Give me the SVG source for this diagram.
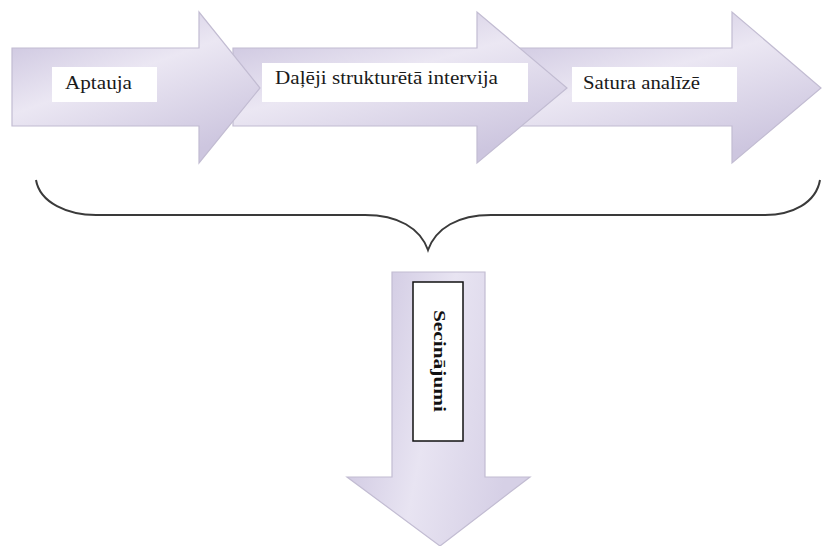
<svg xmlns="http://www.w3.org/2000/svg" width="824" height="546" viewBox="0 0 824 546">
<style>
.arrow{stroke:#c2bcd2;stroke-width:1.2}
.box{fill:#ffffff}
.lbl{font-family:"Liberation Serif","Times New Roman",serif;font-size:19px;fill:#1a1a1a}
.brace{fill:none;stroke:#3a3a3a;stroke-width:2}
</style>
<defs>
<linearGradient id="gh" x1="0" y1="0" x2="0.6" y2="1">
<stop offset="0" stop-color="#c3bbd9"/>
<stop offset="0.5" stop-color="#ebe7f3"/>
<stop offset="1" stop-color="#cdc6df"/>
</linearGradient>
<linearGradient id="gv" x1="0" y1="0" x2="1" y2="0.3">
<stop offset="0" stop-color="#c6bedb"/>
<stop offset="0.55" stop-color="#e8e4f2"/>
<stop offset="1" stop-color="#d6d0e6"/>
</linearGradient>
</defs>
<g id="arrow3">
<path class="arrow" fill="url(#gh)" d="M500,48 L732,48 L732,12 L821,88 L732,163 L732,126 L500,126 Z"/>
</g>
<g id="arrow2">
<path class="arrow" fill="url(#gh)" d="M233,48 L477,48 L477,12 L567,88 L477,163 L477,126 L233,126 Z"/>
</g>
<g id="arrow1">
<path class="arrow" fill="url(#gh)" d="M12,48 L199,48 L199,12 L260,88 L199,163 L199,126 L12,126 Z"/>
</g>
<g id="node-aptauja">
<rect class="box" x="52" y="67" width="105" height="35"/>
<text class="lbl" x="65" y="89" textLength="67" lengthAdjust="spacingAndGlyphs">Aptauja</text>
</g>
<g id="node-intervija">
<rect class="box" x="262" y="63" width="266" height="39"/>
<text class="lbl" x="275" y="84" textLength="223" lengthAdjust="spacingAndGlyphs">Daļēji strukturētā intervija</text>
</g>
<g id="node-analize">
<rect class="box" x="572" y="67" width="165" height="35"/>
<text class="lbl" x="583" y="89" textLength="117" lengthAdjust="spacingAndGlyphs">Satura analīzē</text>
</g>
<g id="connectors">
<path class="brace" d="M36,180 C40,203 68,215 96,215 L365,215 C398,215 420,228 428,250 C436,228 458,215 491,215 L765,215 C792,215 816,203 820,180"/>
</g>
<g id="node-secinajumi">
<path class="arrow" fill="url(#gv)" d="M392,272 L485,272 L485,477 L530,477 L440,546 L347,477 L392,477 Z"/>
<rect x="413" y="282" width="50" height="159" fill="#ffffff" stroke="#111111" stroke-width="1.5"/>
<text transform="translate(434,361) rotate(90)" text-anchor="middle" font-family="Liberation Serif, Times New Roman, serif" font-size="16" font-weight="bold" fill="#111111" textLength="102" lengthAdjust="spacingAndGlyphs">Secinājumi</text>
</g>
</svg>
